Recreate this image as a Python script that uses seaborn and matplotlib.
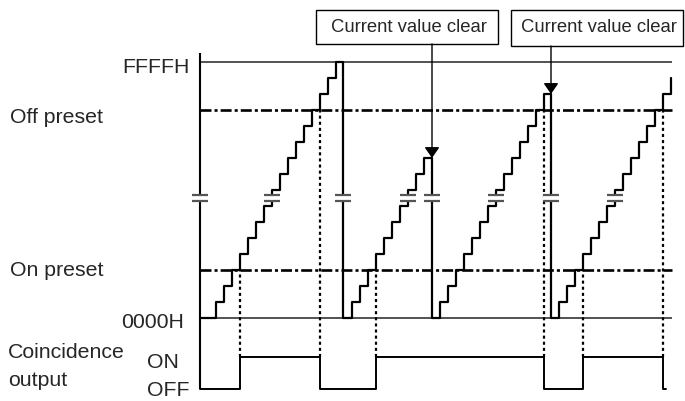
import numpy as np
import pandas as pd
import matplotlib
matplotlib.use("Agg")
import matplotlib.pyplot as plt
from matplotlib.patches import Rectangle
import seaborn as sns

# ------------------ DATA ------------------
# time in counter clock ticks, counter value in counts (FFFFH drawn as 16)
RAMP1_T = [0, 2, 3, 4, 5, 6, 7, 8, 9, 10, 11, 12, 13, 14, 15, 16, 17]
RAMP1_V = [0, 1, 2, 3, 4, 5, 6, 7, 8, 9, 10, 11, 12, 13, 14, 15, 16]
RAMP2_T = [17.875, 19, 20, 21, 22, 23, 24, 25, 26, 27, 28]
RAMP2_V = [0, 1, 2, 3, 4, 5, 6, 7, 8, 9, 10]
RAMP3_T = [29, 30, 31, 32, 33, 34, 35, 36, 37, 38, 39, 40, 41, 42, 43]
RAMP3_V = [0, 1, 2, 3, 4, 5, 6, 7, 8, 9, 10, 11, 12, 13, 14]
RAMP4_T = [43.875, 44.875, 45.875, 46.875, 47.875, 48.875, 49.875, 50.875,
           51.875, 52.875, 53.875, 54.875, 55.875, 56.875, 57.875, 58.875]
RAMP4_V = [0, 1, 2, 3, 4, 5, 6, 7, 8, 9, 10, 11, 12, 13, 14, 15]

FFFF_VAL = 16
OFF_PRESET = 13
ON_PRESET = 3
ZERO_VAL = 0

# coincidence output (0 = OFF, 1 = ON)
OUT_T = [0, 5, 15, 22, 43, 47.875, 57.875, 58.25]
OUT_STATE = [0, 1, 0, 1, 0, 1, 0, 0]

# dotted guides: edge time and the preset level they start from
GUIDE_T = [5, 15, 22, 43, 47.875, 57.875]
GUIDE_FROM = [ON_PRESET, OFF_PRESET, ON_PRESET, OFF_PRESET, ON_PRESET, OFF_PRESET]

# "current value clear" events
CLEAR_T = [29, 43.875]
CLEAR_V = [10, 14]
CLEAR_LABEL = "Current value clear"

# break symbols (=) on the vertical lines
BREAK_T = [0, 9, 17.875, 26, 29, 37, 43.875, 51.875]

# ------------------ LAYOUT ------------------
W, H = 685, 401
T_END = 59
AXIS_TOP = 16.56
OUT_ON = -2.44
OUT_OFF = -4.44
BREAK_Y = 7.5
BREAK_GAP = 0.19


def fx(x):
    return x / W


def fy(y):
    return 1 - y / H


sns.set_style("white")
plt.rcParams["font.family"] = ["Liberation Sans", "DejaVu Sans"]
plt.rcParams["lines.scale_dashes"] = False

fig = plt.figure(figsize=(W / 100, H / 100), dpi=100)
ax = fig.add_axes([0, 0, 1, 1])
ax.set_xlim(-25, 60.625)
ax.set_ylim(-5.1875, 19.875)
ax.axis("off")

# reference levels
ax.hlines([FFFF_VAL, ZERO_VAL], 0, T_END, colors="#444444", lw=1.3, zorder=1)
ax.hlines([OFF_PRESET, ON_PRESET], 0, T_END, colors="black", lw=1.9,
          linestyles=[(0, (7.9, 2.2, 2.2, 2.2))], zorder=1)
ax.vlines(0, OUT_OFF, AXIS_TOP, colors="black", lw=1.5, zorder=2)

# counter value
count = pd.DataFrame({
    "t": RAMP1_T + RAMP2_T + RAMP3_T + RAMP4_T,
    "v": RAMP1_V + RAMP2_V + RAMP3_V + RAMP4_V,
})
sns.lineplot(data=count, x="t", y="v", drawstyle="steps-post", estimator=None,
             sort=False, color="black", lw=1.6, ax=ax, zorder=3)

# coincidence output
out = pd.DataFrame({"t": OUT_T, "state": OUT_STATE})
out["level"] = OUT_OFF + out["state"] * (OUT_ON - OUT_OFF)
sns.lineplot(data=out, x="t", y="level", drawstyle="steps-post", estimator=None,
             sort=False, color="black", lw=1.4, ax=ax, zorder=3)

# dotted guides down to the output
ax.vlines(GUIDE_T, OUT_ON, GUIDE_FROM, colors="black", lw=1.6,
          linestyles=[(0, (2.2, 2.2))], zorder=2)

# break marks
for t in BREAK_T:
    ax.fill_between([t - 1, t + 1], BREAK_Y - BREAK_GAP, BREAK_Y + BREAK_GAP,
                    color="white", lw=0, zorder=4)
    ax.hlines([BREAK_Y - BREAK_GAP, BREAK_Y + BREAK_GAP], t - 1, t + 1,
              colors="#555555", lw=1.6, zorder=5)

# clear arrows and labels
boxes = [(316, 10, 498, 44), (511, 10, 683, 46)]
for t, v, (x0, y0, x1, y1) in zip(CLEAR_T, CLEAR_V, boxes):
    fig.add_artist(Rectangle((fx(x0), fy(y1)), fx(x1) - fx(x0), fy(y0) - fy(y1),
                             transform=fig.transFigure, fill=False, ec="black", lw=1.0))
    fig.text(fx((x0 + x1) / 2 + 2), fy((y0 + y1) / 2), CLEAR_LABEL,
             ha="center", va="center", fontsize=13.3)
    ax.annotate("", xy=(t, v), xycoords="data", xytext=(t, fy(y1)),
                textcoords=("data", "figure fraction"),
                arrowprops=dict(arrowstyle="-|>,head_length=0.65,head_width=0.45",
                                color="black", lw=1.0, shrinkA=0, shrinkB=0,
                                mutation_scale=10), zorder=6)

# level labels
fs = 15.3
fig.text(fx(190), fy(73), "FFFFH", ha="right", va="baseline", fontsize=fs)
fig.text(fx(10), fy(123), "Off preset", ha="left", va="baseline", fontsize=fs)
fig.text(fx(10), fy(276), "On preset", ha="left", va="baseline", fontsize=fs)
fig.text(fx(184), fy(328), "0000H", ha="right", va="baseline", fontsize=fs)
fig.text(fx(8), fy(358), "Coincidence", ha="left", va="baseline", fontsize=fs)
fig.text(fx(8), fy(386), "output", ha="left", va="baseline", fontsize=fs)
fig.text(fx(147), fy(368), "ON", ha="left", va="baseline", fontsize=fs)
fig.text(fx(147), fy(396), "OFF", ha="left", va="baseline", fontsize=fs)

fig.savefig("out.png", dpi=100, facecolor="white")
plt.close(fig)
